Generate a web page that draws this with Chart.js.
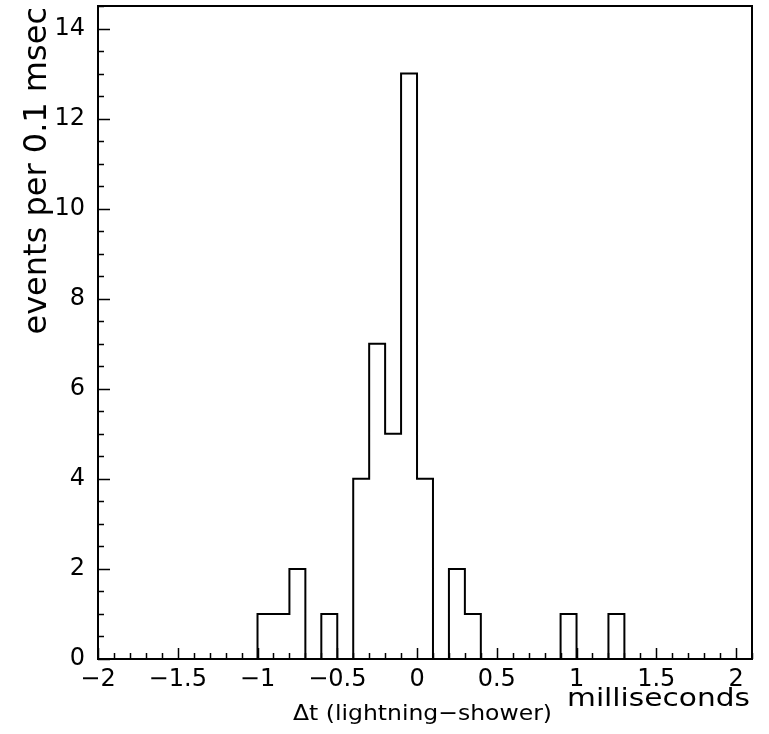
<!DOCTYPE html>
<html>
<head>
<meta charset="utf-8">
<script src="https://cdn.jsdelivr.net/npm/chart.js@4/dist/chart.umd.min.js"></script>
<style>
  html, body { margin: 0; padding: 0; background: #fff; }
  canvas { display: block; }
</style>
</head>
<body>
<canvas id="histo" width="769" height="734"></canvas>
<script>
// Histogram: events per 0.1 msec, bins start at -2 ms
const binStart = -2;
const binWidth = 0.1;
const counts = [
    0, 0, 0, 0, 0, 0, 0, 0, 0, 0,   // -2.0 .. -1.1
    1, 1, 2, 0, 1, 0, 4, 7, 5, 13,  // -1.0 .. -0.1
    4, 0, 2, 1, 0, 0, 0, 0, 0, 1,   //  0.0 ..  0.9
    0, 0, 1, 0, 0, 0, 0, 0, 0, 0,   //  1.0 ..  1.9
    0                               //  2.0
];

// Axes
const xRange = [-2, 2.1];
const yRange = [0, 14.5];
const xTickLabels = [-2, -1.5, -1, -0.5, 0, 0.5, 1, 1.5, 2];
const yTickLabels = [0, 2, 4, 6, 8, 10, 12, 14];
const xMinorStep = 0.1;
const yMinorStep = 0.5;

const yTitle = 'events per 0.1 msec';
const xTitle = 'Δt (lightning−shower)';
const xUnit = 'milliseconds';

// points at bin edges, step outline
const histPoints = counts.map((c, i) => ({ x: binStart + i * binWidth, y: c }));
histPoints.push({ x: binStart + counts.length * binWidth, y: 0 });

Chart.defaults.font.family = "'DejaVu Sans', sans-serif";
Chart.defaults.color = '#000';

function fmt(v) {
    const s = String(Math.abs(Math.round(v * 10) / 10));
    return v < 0 ? '−' + s : s;
}

// text squeezed/stretched to a given width
function fitText(ctx, text, x, y, width) {
    const w = ctx.measureText(text).width;
    ctx.save();
    ctx.translate(x, y);
    ctx.scale(width / w, 1);
    ctx.fillText(text, 0, 0);
    ctx.restore();
}

// ROOT-like frame, inner tick marks and titles
const framePlugin = {
    id: 'frame',
    afterDraw(chart) {
        const { ctx, chartArea: a, scales: { x, y } } = chart;
        ctx.save();
        ctx.strokeStyle = '#000';
        ctx.lineWidth = 2;
        ctx.strokeRect(a.left, a.top, a.right - a.left, a.bottom - a.top);

        ctx.lineWidth = 1.5;
        ctx.beginPath();
        for (let v = xRange[0]; v <= xRange[1] + 1e-9; v += xMinorStep) {
            const px = Math.round(x.getPixelForValue(v)) + 0.5;
            const major = xTickLabels.some(t => Math.abs(t - v) < 1e-6);
            ctx.moveTo(px, a.bottom);
            ctx.lineTo(px, a.bottom - (major ? 11 : 6));
        }
        for (let v = yRange[0]; v <= yRange[1] + 1e-9; v += yMinorStep) {
            const py = Math.round(y.getPixelForValue(v)) + 0.5;
            const major = yTickLabels.some(t => Math.abs(t - v) < 1e-6);
            ctx.moveTo(a.left, py);
            ctx.lineTo(a.left + (major ? 12 : 6), py);
        }
        ctx.stroke();

        ctx.fillStyle = '#000';
        ctx.textBaseline = 'alphabetic';

        // y title, rotated, ending at the top
        ctx.save();
        ctx.translate(46, 7);
        ctx.rotate(-Math.PI / 2);
        ctx.font = "32px 'DejaVu Sans'";
        ctx.textAlign = 'right';
        ctx.fillText(yTitle, 0, 0);
        ctx.restore();

        ctx.textAlign = 'left';
        ctx.font = "22px 'DejaVu Sans'";
        fitText(ctx, xTitle, 293, 720, 259);
        ctx.font = "25px 'DejaVu Sans'";
        fitText(ctx, xUnit, 567, 706, 183);
        ctx.restore();
    }
};

new Chart(document.getElementById('histo'), {
    type: 'line',
    data: {
        datasets: [{
            data: histPoints,
            stepped: 'before',
            borderColor: '#000',
            borderWidth: 2,
            pointRadius: 0,
            fill: false,
            tension: 0
        }]
    },
    options: {
        responsive: false,
        animation: false,
        layout: { padding: { left: 0, top: 6, right: 17, bottom: 0 } },
        plugins: {
            legend: { display: false },
            tooltip: { enabled: false }
        },
        scales: {
            x: {
                type: 'linear',
                min: xRange[0],
                max: xRange[1],
                afterBuildTicks: (axis) => { axis.ticks = xTickLabels.map(v => ({ value: v })); },
                afterFit: (axis) => {
                    axis.height = 75;
                    axis.paddingLeft = 0;
                    axis.paddingRight = 0;
                },
                grid: { display: false, drawTicks: false },
                border: { display: false },
                ticks: {
                    autoSkip: false,
                    maxRotation: 0,
                    padding: 6,
                    font: { size: 24 },
                    callback: (v) => fmt(v)
                }
            },
            y: {
                min: yRange[0],
                max: yRange[1],
                afterBuildTicks: (axis) => { axis.ticks = yTickLabels.map(v => ({ value: v })); },
                afterFit: (axis) => {
                    axis.width = 98;
                    axis.paddingTop = 0;
                    axis.paddingBottom = 0;
                },
                grid: { display: false, drawTicks: false },
                border: { display: false },
                ticks: {
                    autoSkip: false,
                    padding: 13,
                    font: { size: 24 },
                    callback: (v) => fmt(v)
                }
            }
        }
    },
    plugins: [framePlugin]
});
</script>
</body>
</html>
